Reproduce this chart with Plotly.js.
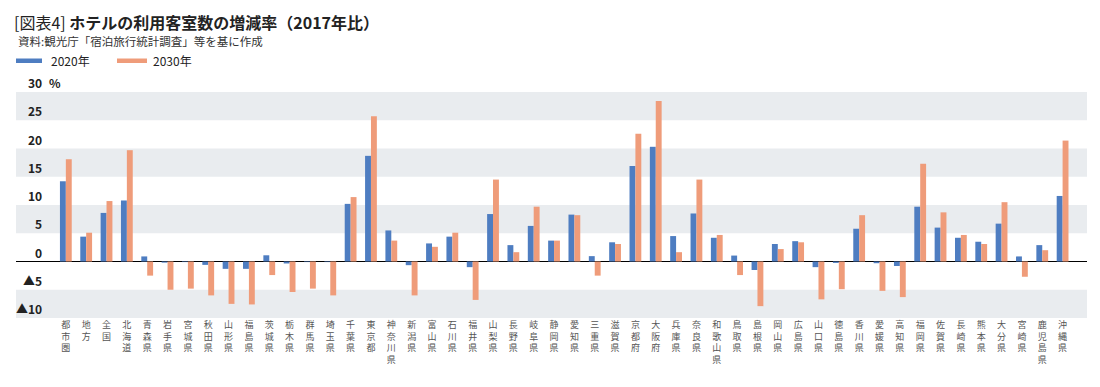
<!DOCTYPE html>
<html>
<head>
<meta charset="utf-8">
<script src="https://cdn.plot.ly/plotly-3.0.1.min.js"></script>
<style>html,body{margin:0;padding:0;background:#fff;}#chart{width:1100px;height:387px;}</style>
</head>
<body>
<div id="chart"></div>
<script>
const categories = ["都市圏","地方","全国","北海道","青森県","岩手県","宮城県","秋田県","山形県","福島県",
  "茨城県","栃木県","群馬県","埼玉県","千葉県","東京都","神奈川県","新潟県","富山県","石川県",
  "福井県","山梨県","長野県","岐阜県","静岡県","愛知県","三重県","滋賀県","京都府","大阪府",
  "兵庫県","奈良県","和歌山県","鳥取県","島根県","岡山県","広島県","山口県","徳島県","香川県",
  "愛媛県","高知県","福岡県","佐賀県","長崎県","熊本県","大分県","宮崎県","鹿児島県","沖縄県"];

const values2020 = [14.2,4.4,8.6,10.8,0.9,-0.2,-0.1,-0.6,-1.3,-1.3,
  1.1,-0.35,-0.1,-0.1,10.2,18.7,5.5,-0.65,3.2,4.4,
  -1.0,8.4,2.9,6.3,3.7,8.3,0.95,3.4,16.9,20.3,
  4.5,8.5,4.2,1.05,-1.5,3.1,3.6,-1.0,-0.25,5.8,
  -0.3,-0.8,9.7,6.0,4.2,3.5,6.7,0.9,2.9,11.6];

const values2030 = [18.1,5.1,10.7,19.7,-2.5,-5.0,-4.8,-6.0,-7.5,-7.6,
  -2.4,-5.4,-4.8,-6.0,11.4,25.7,3.7,-6.0,2.6,5.1,
  -6.8,14.5,1.65,9.7,3.7,8.2,-2.5,3.1,22.6,28.4,
  1.65,14.5,4.7,-2.4,-7.9,2.2,3.4,-6.7,-4.9,8.2,
  -5.2,-6.3,17.3,8.7,4.7,3.1,10.5,-2.7,2.0,21.4];

const seriesNames = ["2020年","2030年"];
const yTickVals = [-10,-5,0,5,10,15,20,25,30];
const yTickText = ["▲10","▲5","0","5","10","15","20","25","30"];
const yUnit = "%";
const bandRanges = [[-10,-5],[5,10],[15,20],[25,30]];

const titleText = "[図表4] <b>ホテルの利用客室数の増減率（2017年比）</b>";
const subtitleText = "資料:観光庁「宿泊旅行統計調査」等を基に作成";

const blue = "#4e7dc1";
const orange = "#ef9c7a";
const FONT = "'Noto Sans CJK JP', 'Noto Sans', sans-serif";

const W = 1100, H = 387;
const mL = 16, mR = 13, mT = 92, mB = 69;
const plotW = W - mL - mR, plotH = H - mT - mB;
const px = x => (x - mL) / plotW;
const py = y => (H - mB - y) / plotH;

const stacked = categories.map(c => c.split('').join('<br>'));

const traces = [
  {type:'bar', name:seriesNames[0], x:categories, y:values2020, marker:{color:blue}, hoverinfo:'x+y'},
  {type:'bar', name:seriesNames[1], x:categories, y:values2030, marker:{color:orange}, hoverinfo:'x+y'}
];

const shapes = bandRanges.map(r => ({
  type:'rect', xref:'paper', yref:'y', x0:0, x1:1, y0:r[0], y1:r[1],
  fillcolor:'#e9ecef', line:{width:0}, layer:'below'
}));
// legend swatches
shapes.push({type:'rect', xref:'paper', yref:'paper', x0:px(16), x1:px(42), y0:py(63), y1:py(58.5), fillcolor:blue, line:{width:0}});
shapes.push({type:'rect', xref:'paper', yref:'paper', x0:px(117), x1:px(147), y0:py(63), y1:py(58.5), fillcolor:orange, line:{width:0}});

const annotations = yTickVals.map((v,i) => ({
  xref:'paper', yref:'y', x:px(44), y:v, xanchor:'right', yanchor:'bottom', yshift:-1,
  text:'<b>'+yTickText[i]+'</b>', showarrow:false, font:{family:FONT, size:12, color:'#222'}
}));
annotations.push({xref:'paper', yref:'y', x:px(47), y:yTickVals[yTickVals.length-1], xanchor:'left', yanchor:'bottom', yshift:-1,
  text:'<b>'+yUnit+'</b>', showarrow:false, font:{family:FONT, size:12, color:'#222'}});
annotations.push({xref:'paper', yref:'paper', x:0, y:py(41), xanchor:'left', yanchor:'middle',
  text:subtitleText, showarrow:false, font:{family:FONT, size:11.5, color:'#333'}});
annotations.push({xref:'paper', yref:'paper', x:px(49), y:py(61), xanchor:'left', yanchor:'middle',
  text:seriesNames[0], showarrow:false, font:{family:FONT, size:12, color:'#222'}});
annotations.push({xref:'paper', yref:'paper', x:px(151), y:py(61), xanchor:'left', yanchor:'middle',
  text:seriesNames[1], showarrow:false, font:{family:FONT, size:12, color:'#222'}});

const layout = {
  width:W, height:H,
  margin:{l:mL, r:mR, t:mT, b:mB, pad:0},
  paper_bgcolor:'#fff', plot_bgcolor:'rgba(0,0,0,0)',
  title:{text:titleText, xref:'container', yref:'container', x:14/W, xanchor:'left', y:1-23/H, yanchor:'middle',
    font:{family:FONT, size:16, color:'#222'}},
  showlegend:false,
  barmode:'group', bargap:0.42, bargroupgap:0,
  xaxis:{type:'category', range:[-2.45,50.2], tickvals:categories, ticktext:stacked,
    showgrid:false, zeroline:false, showline:false, ticks:'', tickangle:0,
    tickfont:{family:FONT, size:9, color:'#555'}, fixedrange:true},
  yaxis:{range:[-10,30], showticklabels:false, showgrid:false, zeroline:true, zerolinecolor:'#000', zerolinewidth:1.5,
    ticks:'', fixedrange:true},
  shapes:shapes,
  annotations:annotations,
  font:{family:FONT}
};

Plotly.newPlot('chart', traces, layout, {displayModeBar:false, staticPlot:true});
</script>
</body>
</html>
